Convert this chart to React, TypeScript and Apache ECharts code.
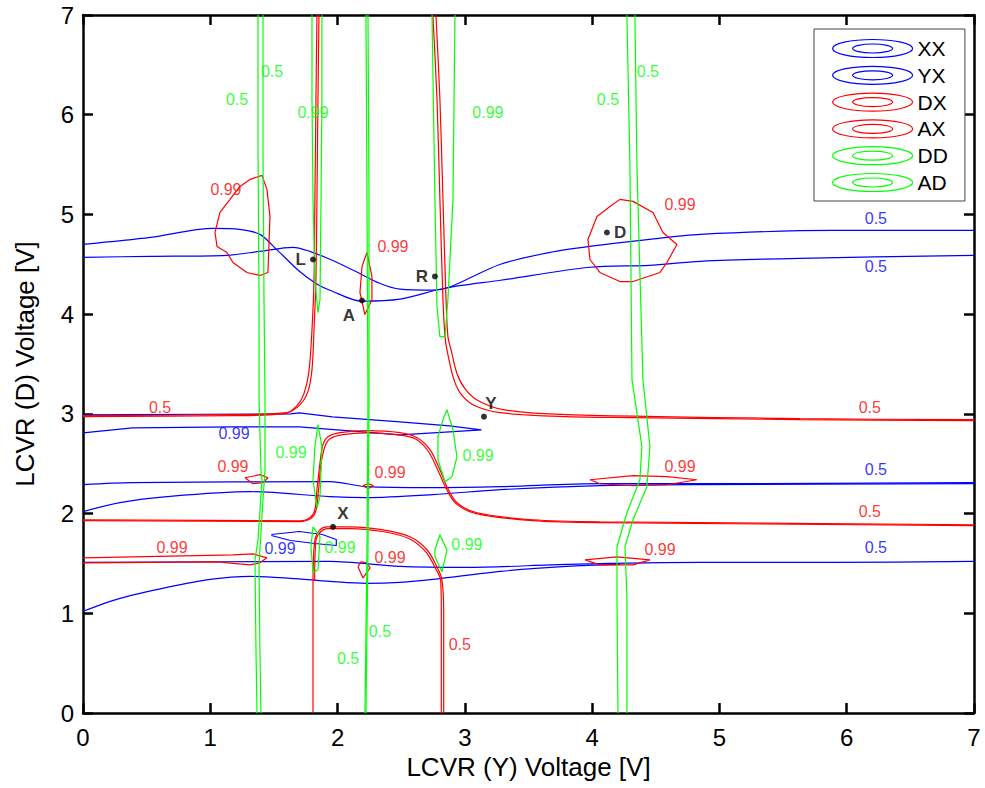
import React, { useEffect, useRef } from "react";
import * as echarts from "echarts";

// ---------- data (value coordinates: [LCVR(Y) V, LCVR(D) V]) ----------
const xTicks = [0, 1, 2, 3, 4, 5, 6, 7];
const yTicks = [0, 1, 2, 3, 4, 5, 6, 7];
const legendNames = ["XX", "YX", "DX", "AX", "DD", "AD"];

// blue (XX / YX) contours
const xxTop = [[0,4.70],[0.53,4.77],[1.02,4.86],[1.23,4.85],[1.39,4.80],[1.52,4.65],[1.70,4.43],[1.84,4.30],[1.94,4.24],[2.19,4.13],[2.49,4.15],[2.84,4.26],[3.28,4.34],[3.98,4.47],[4.45,4.49],[4.85,4.53],[5.63,4.56],[7,4.59]];
const yxTop = [[0,4.57],[0.53,4.58],[1.13,4.59],[1.39,4.63],[1.65,4.67],[1.78,4.63],[1.94,4.55],[2.14,4.43],[2.33,4.31],[2.49,4.25],[2.75,4.24],[2.88,4.27],[3.28,4.50],[3.67,4.62],[3.98,4.68],[4.45,4.75],[4.85,4.80],[5.89,4.84],[7,4.84]];
const xxMid = [[0,2.99],[1.63,3.00],[1.70,3.01],[1.96,2.97],[2.49,2.92],[2.88,2.88],[3.13,2.84],[2.88,2.82],[2.49,2.79],[1.70,2.87],[1.18,2.87],[0.39,2.86],[0,2.81]];
const yxMid = [[0,2.29],[0.39,2.31],[1.94,2.32],[2.23,2.27],[2.75,2.26],[3.28,2.27],[4.06,2.30],[4.85,2.30],[7,2.31]];
const xxLowMid = [[0,2.02],[0.29,2.11],[0.66,2.17],[1.31,2.22],[1.94,2.17],[2.23,2.16],[2.75,2.19],[3.28,2.24],[4.06,2.28],[4.85,2.29],[7,2.30]];
const xxSmall = [[1.48,1.79],[1.70,1.82],[1.88,1.79],[1.99,1.74],[1.99,1.68],[1.82,1.70],[1.63,1.73],[1.48,1.78]];
const yxLow = [[0,1.51],[1.94,1.52],[2.49,1.47],[3.02,1.46],[3.80,1.49],[4.85,1.51],[5.89,1.51],[7,1.52]];
const xxBottom = [[0,1.02],[0.29,1.15],[0.66,1.26],[1.00,1.34],[1.31,1.37],[1.63,1.35],[1.94,1.32],[2.23,1.30],[2.49,1.31],[2.75,1.34],[3.28,1.42],[3.80,1.47],[4.22,1.49]];

// red (DX / AX) contours
const dxUpperLeft = [[1.854,7.0],[1.846,6.155],[1.838,5.151],[1.830,4.347],[1.815,3.845],[1.799,3.444],[1.767,3.223],[1.705,3.092],[1.603,3.012],[1.178,2.992],[0,2.982]];
const axUpperLeft = [[1.838,7.0],[1.830,6.155],[1.822,5.151],[1.815,4.347],[1.799,3.845],[1.775,3.424],[1.736,3.203],[1.681,3.082],[1.588,3.002],[1.178,2.982],[0,2.972]];
const dxUpperRight = [[2.749,7.0],[2.781,6.155],[2.804,5.151],[2.828,4.147],[2.844,3.775],[2.859,3.645],[2.907,3.373],[2.961,3.213],[3.064,3.092],[3.276,3.012],[3.802,2.972],[4.321,2.962],[5.632,2.942],[7,2.932]];
const axUpperRight = [[2.773,7.0],[2.804,6.155],[2.828,5.151],[2.852,4.147],[2.867,3.775],[2.891,3.645],[2.938,3.404],[3.0,3.253],[3.103,3.133],[3.299,3.042],[3.802,2.992],[5.632,2.952],[7,2.942]];
const axMiddle = [[0,1.938],[1.705,1.928],[1.783,1.958],[1.822,2.038],[1.838,2.239],[1.862,2.51],[1.885,2.691],[1.925,2.771],[2.019,2.811],[2.231,2.831],[2.49,2.811],[2.624,2.761],[2.726,2.641],[2.804,2.44],[2.859,2.269],[2.938,2.108],[3.095,2.008],[3.535,1.938],[4.061,1.918],[7,1.888]];
const dxMiddle = [[0,1.93],[1.70,1.92],[1.79,1.95],[1.83,2.03],[1.85,2.23],[1.87,2.50],[1.90,2.67],[1.94,2.75],[2.03,2.79],[2.23,2.81],[2.48,2.79],[2.61,2.75],[2.71,2.63],[2.79,2.43],[2.85,2.26],[2.93,2.10],[3.09,2.00],[3.53,1.93],[4.06,1.91],[7,1.88]];
const axLower = [[1.807,0],[1.807,1.335],[1.822,1.737],[1.862,1.837],[1.917,1.867],[2.097,1.867],[2.357,1.837],[2.569,1.767],[2.702,1.637],[2.781,1.466],[2.82,1.335],[2.834,1.004],[2.834,0]];
const dxLower = [[1.82,1.33],[1.83,1.73],[1.87,1.82],[1.92,1.85],[2.10,1.85],[2.35,1.82],[2.56,1.75],[2.69,1.62],[2.77,1.45],[2.81,1.33],[2.815,1.0],[2.815,0]];
const dxBlobLeft = [[1.406,5.392],[1.445,5.251],[1.469,4.98],[1.453,4.418],[1.39,4.388],[1.288,4.418],[1.178,4.518],[1.131,4.618],[1.053,4.679],[1.037,4.819],[1.076,5.02],[1.155,5.151],[1.233,5.281],[1.312,5.351],[1.406,5.392]];
const dxThinA = [[2.231,4.618],[2.27,4.378],[2.27,4.147],[2.215,3.996],[2.176,4.217],[2.192,4.478],[2.231,4.618]];
const dxBlobD = [[4.218,5.151],[4.321,5.131],[4.478,5.02],[4.556,4.819],[4.666,4.699],[4.588,4.518],[4.533,4.418],[4.321,4.327],[4.218,4.327],[4.061,4.418],[3.983,4.548],[3.967,4.749],[4.038,4.98],[4.14,5.08],[4.218,5.151]];
const axSmallLeft = [[1.273,2.359],[1.39,2.39],[1.453,2.359],[1.414,2.309],[1.335,2.299],[1.273,2.359]];
const axTiny = [[2.20,2.28],[2.24,2.30],[2.28,2.28],[2.24,2.25],[2.20,2.28]];
const axLeftBand = [[0,1.556],[1.178,1.586],[1.335,1.596],[1.445,1.556],[1.39,1.506],[1.312,1.486],[1.053,1.516],[0,1.506]];
const axTear = [[2.16,1.466],[2.2,1.355],[2.255,1.456],[2.231,1.506],[2.184,1.516],[2.16,1.466]];
const dxRight235 = [[3.983,2.339],[4.321,2.38],[4.588,2.37],[4.823,2.339],[4.588,2.289],[4.321,2.279],[4.061,2.299],[3.983,2.339]];
const dxRight155 = [[3.943,1.536],[4.195,1.566],[4.454,1.536],[4.321,1.486],[4.061,1.486],[3.943,1.536]];

// green (DD / AD) contours
const ddLeft = [[1.375,7.0],[1.375,5.653],[1.383,4.147],[1.383,3.143],[1.398,2.44],[1.406,2.339],[1.375,1.737],[1.351,1.536],[1.359,0.633],[1.367,0]];
const adLeft = [[1.414,7.0],[1.414,5.653],[1.422,4.147],[1.43,3.143],[1.43,2.44],[1.414,2.139],[1.383,1.486],[1.39,0.633],[1.398,0]];
const ddTopU = [[1.799,7],[1.799,6.155],[1.807,5.151],[1.822,4.347],[1.846,4.016],[1.862,4.147],[1.87,5.151],[1.877,6.155],[1.877,7]];
const adCenter = [[2.223,7],[2.231,5.151],[2.239,3.143],[2.231,1.637],[2.215,0]];
const ddCenter = [[2.239,7],[2.247,5.151],[2.247,3.143],[2.239,1.637],[2.223,0]];
const ddTopU2 = [[2.742,7],[2.765,5.151],[2.781,4.076],[2.804,3.775],[2.844,3.775],[2.867,4.147],[2.907,5.151],[2.922,7]];
const ddRight = [[4.273,7],[4.297,5.482],[4.313,3.343],[4.391,2.671],[4.375,2.339],[4.273,2.008],[4.195,1.667],[4.195,1.165],[4.203,0]];
const adRight = [[4.336,7],[4.352,5.482],[4.399,3.343],[4.454,2.671],[4.43,2.269],[4.321,1.938],[4.258,1.667],[4.273,1.165],[4.273,0]];
const ddSmall1 = [[1.846,2.892],[1.877,2.671],[1.862,2.169],[1.838,2.058],[1.807,2.339],[1.822,2.671],[1.846,2.892]];
const adSmall2 = [[1.807,1.867],[1.862,1.767],[1.846,1.436],[1.807,1.406],[1.791,1.667],[1.807,1.867]];
const ddSmall3 = [[2.859,3.042],[2.907,2.841],[2.938,2.57],[2.899,2.37],[2.844,2.319],[2.789,2.54],[2.789,2.771],[2.828,2.942],[2.859,3.042]];
const adSmall4 = [[2.804,1.787],[2.859,1.637],[2.82,1.416],[2.765,1.566],[2.765,1.637],[2.804,1.787]];

// contour level labels [x, y, text]
const blueLabels = [[6.229,4.96,"0.5"],[6.229,4.478,"0.5"],[1.186,2.801,"0.99"],[6.229,2.44,"0.5"],[1.548,1.647,"0.99"],[6.229,1.657,"0.5"]];
const redLabels = [[1.123,5.251,"0.99"],[2.435,4.679,"0.99"],[4.69,5.1,"0.99"],[0.605,3.062,"0.5"],[6.182,3.062,"0.5"],[1.178,2.47,"0.99"],[2.412,2.41,"0.99"],[4.69,2.47,"0.99"],[6.182,2.018,"0.5"],[0.699,1.657,"0.99"],[2.412,1.556,"0.99"],[4.533,1.637,"0.99"],[2.961,0.683,"0.5"]];
const greenLabels = [[1.485,6.436,"0.5"],[1.21,6.155,"0.5"],[1.807,6.024,"0.99"],[3.181,6.024,"0.99"],[4.124,6.155,"0.5"],[4.438,6.436,"0.5"],[1.634,2.61,"0.99"],[3.103,2.58,"0.99"],[2.019,1.657,"0.99"],[3.016,1.687,"0.99"],[2.333,0.813,"0.5"],[2.082,0.542,"0.5"]];

// marked operating points [x, y, name]
const points = [[1.807,4.548,"L"],[2.192,4.137,"A"],[2.765,4.378,"R"],[4.116,4.819,"D"],[3.15,2.972,"Y"],[1.964,1.867,"X"]];

const BLUE = "#0000ff";
const RED = "#ff0000";
const GREEN = "#00ff00";
const FONT = 'Arial, "Liberation Sans", Helvetica, sans-serif';

// which point label sits where (style only)
const pointLabelStyle: Record<string, any> = {
  L: { position: "left" },
  A: { position: "bottom", offset: [-13, 0] },
  R: { position: "left" },
  D: { position: "right" },
  Y: { position: "top", offset: [7, 2] },
  X: { position: "top", offset: [10, 2] },
};

const smoothSet = new Set<any>([xxTop, yxTop, yxMid, xxLowMid, yxLow, xxBottom, dxUpperLeft, axUpperLeft, dxUpperRight, axUpperRight, axMiddle, dxMiddle, axLower, dxLower]);

const curves: [string, string, number[][]][] = [
  ["XX", BLUE, xxTop], ["YX", BLUE, yxTop], ["XX", BLUE, xxMid], ["YX", BLUE, yxMid],
  ["XX", BLUE, xxLowMid], ["XX", BLUE, xxSmall], ["YX", BLUE, yxLow], ["YX", BLUE, xxBottom],
  ["DX", RED, dxUpperLeft], ["AX", RED, axUpperLeft], ["DX", RED, dxUpperRight], ["AX", RED, axUpperRight],
  ["AX", RED, axMiddle], ["DX", RED, dxMiddle], ["AX", RED, axLower], ["DX", RED, dxLower],
  ["DX", RED, dxBlobLeft], ["DX", RED, dxThinA], ["DX", RED, dxBlobD], ["AX", RED, axSmallLeft],
  ["AX", RED, axTiny], ["AX", RED, axLeftBand], ["AX", RED, axTear], ["DX", RED, dxRight235], ["DX", RED, dxRight155],
  ["DD", GREEN, ddLeft], ["AD", GREEN, adLeft], ["DD", GREEN, ddTopU], ["AD", GREEN, adCenter], ["DD", GREEN, ddCenter],
  ["DD", GREEN, ddTopU2], ["DD", GREEN, ddRight], ["AD", GREEN, adRight], ["DD", GREEN, ddSmall1],
  ["AD", GREEN, adSmall2], ["DD", GREEN, ddSmall3], ["AD", GREEN, adSmall4],
];

const legendColors: Record<string, string> = { XX: BLUE, YX: BLUE, DX: RED, AX: RED, DD: GREEN, AD: GREEN };
const ICON = "path://M0,9 A40,9 0 1,1 80,9 A40,9 0 1,1 0,9 Z M20,9 A20,4.5 0 1,1 60,9 A20,4.5 0 1,1 20,9 Z";

export default function App() {
  const ref = useRef<HTMLDivElement>(null);
  useEffect(() => {
    if (!ref.current) return;
    const chart = echarts.init(ref.current, undefined, { renderer: "svg" });

    const lineSeries = curves.map(([name, color, data]) => ({
      type: "line",
      name,
      data,
      showSymbol: false,
      symbol: "none",
      silent: true,
      smooth: smoothSet.has(data) ? 0.3 : false,
      color,
      lineStyle: { color, width: 1.2 },
      z: 2,
    }));

    const labelSeries = ([[blueLabels, BLUE], [redLabels, RED], [greenLabels, GREEN]] as [any[], string][]).map(
      ([arr, color], i) => ({
        type: "scatter",
        name: "lbl" + i,
        symbolSize: 0,
        data: arr.map((d) => ({ value: [d[0], d[1]], name: d[2] })),
        label: {
          show: true,
          position: "inside",
          formatter: (p: any) => p.name,
          color,
          fontSize: 16,
          fontFamily: FONT,
        },
        z: 3,
      })
    );

    const pointSeries = {
      type: "scatter",
      name: "pts",
      symbolSize: 6,
      itemStyle: { color: "#000" },
      data: points.map((p) => ({
        value: [p[0], p[1]],
        name: p[2],
        label: pointLabelStyle[p[2] as string],
      })),
      label: {
        show: true,
        formatter: (p: any) => p.name,
        color: "#000",
        fontSize: 17,
        fontWeight: "bold",
        fontFamily: FONT,
        distance: 4,
      },
      z: 4,
    };

    const axisCommon = {
      type: "value",
      min: 0,
      max: 7,
      interval: 1,
      splitLine: { show: false },
      axisLine: { show: true, onZero: false, lineStyle: { color: "#000", width: 2.5 } },
      axisTick: { show: true, inside: true, length: 10, lineStyle: { color: "#000", width: 2.5 } },
    };

    chart.setOption({
      animation: false,
      backgroundColor: "#fff",
      textStyle: { fontFamily: FONT },
      grid: { left: 83, right: 11, top: 15, bottom: 75, containLabel: false },
      xAxis: [
        {
          ...axisCommon,
          position: "bottom",
          name: "LCVR (Y) Voltage [V]",
          nameLocation: "middle",
          nameGap: 40,
          nameTextStyle: { fontSize: 26, color: "#000", fontFamily: FONT },
          axisLabel: { fontSize: 24, color: "#000", margin: 12, fontFamily: FONT, formatter: (v: number) => (xTicks.includes(v) ? String(v) : "") },
        },
        { ...axisCommon, position: "top", axisLabel: { show: false } },
      ],
      yAxis: [
        {
          ...axisCommon,
          position: "left",
          name: "LCVR (D) Voltage [V]",
          nameLocation: "middle",
          nameGap: 45,
          nameTextStyle: { fontSize: 26, color: "#000", fontFamily: FONT },
          axisLabel: { fontSize: 24, color: "#000", margin: 9, fontFamily: FONT, formatter: (v: number) => (yTicks.includes(v) ? String(v) : "") },
        },
        { ...axisCommon, position: "right", axisLabel: { show: false } },
      ],
      legend: {
        data: legendNames.map((n) => ({
          name: n,
          icon: ICON,
          itemStyle: { color: "rgba(0,0,0,0)", borderColor: legendColors[n], borderWidth: 1.2 },
        })),
        orient: "vertical",
        left: 814,
        top: 29,
        itemWidth: 80,
        itemHeight: 18,
        itemGap: 5.8,
        padding: [9, 17, 8, 18],
        backgroundColor: "#fff",
        borderColor: "#444",
        borderWidth: 1,
        borderRadius: 0,
        selectedMode: false,
        textStyle: { fontSize: 21, color: "#000", fontFamily: FONT },
      },
      series: [...lineSeries, ...labelSeries, pointSeries],
    });
    return () => chart.dispose();
  }, []);

  return <div ref={ref} style={{ position: "fixed", left: 0, top: 0, width: 985, height: 788 }} />;
}
